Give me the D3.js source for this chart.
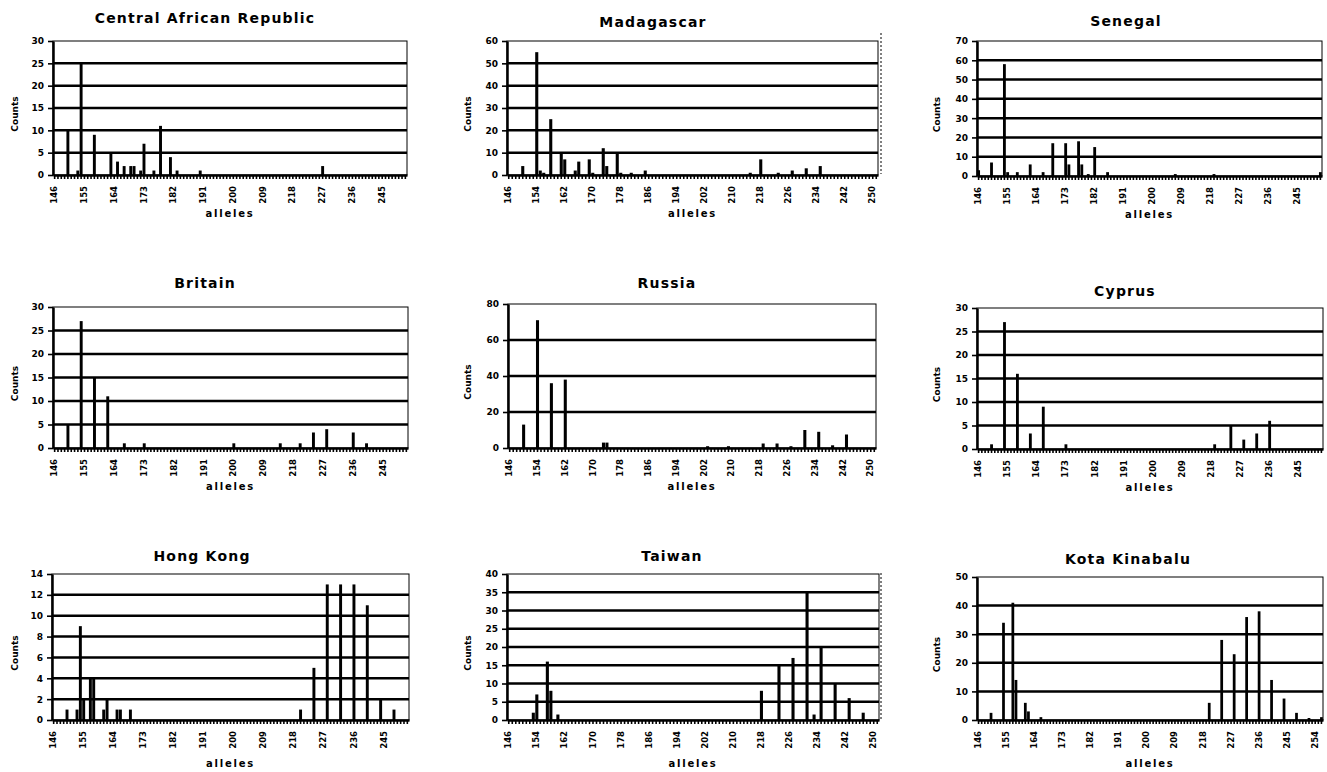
<!DOCTYPE html>
<html>
<head>
<meta charset="utf-8">
<script src="https://cdn.jsdelivr.net/npm/d3@7"></script>
<style>
body{margin:0;background:#fff;}
svg{display:block;font-family:"DejaVu Sans",sans-serif;font-weight:bold;}
</style>
</head>
<body>
<svg id="chart" width="1327" height="772"></svg>
<script>
// ---- data ----
const titles = ["Central African Republic","Madagascar","Senegal","Britain","Russia","Cyprus","Hong Kong","Taiwan","Kota Kinabalu"];

// tick labels
const labels9 = [146,155,164,173,182,191,200,209,218,227,236,245];
const labels8 = [146,154,162,170,178,186,194,202,210,218,226,234,242,250];
const labelsKK = [146,155,164,173,182,191,200,209,218,227,236,245,254];

const ticksCAR = [0,5,10,15,20,25,30];
const ticksMAD = [0,10,20,30,40,50,60];
const ticksSEN = [0,10,20,30,40,50,60,70];
const ticksBRI = [0,5,10,15,20,25,30];
const ticksRUS = [0,20,40,60,80];
const ticksCYP = [0,5,10,15,20,25,30];
const ticksHK  = [0,2,4,6,8,10,12,14];
const ticksTAI = [0,5,10,15,20,25,30,35,40];
const ticksKK  = [0,10,20,30,40,50];

// first / last allele on each category axis
const catRangeA = [146,252];
const catRangeB = [146,251];
const catRangeKK = [146,256];

// allele sizes and counts
const carAlleles = [150,153,154,158,163,165,167,169,170,172,173,176,178,181,183,190,227];
const carCounts  = [10,1,25,9,5,3,2,2,2,1,7,1,11,4,1,1,2];

const madAlleles = [150,154,155,156,158,161,162,165,166,169,170,173,174,177,178,181,185,215,218,223,227,231,235];
const madCounts  = [4,55,2,1,25,10,7,2,6,7,1,12,4,10,1,1,2,1,7,1,2,3,4];

const senAlleles = [146,150,154,155,158,162,166,169,173,174,177,178,180,182,186,207,219,252];
const senCounts  = [3,7,58,2,2,6,2,17,17,6,18,6,1,15,2,1,1,2];

const briAlleles = [150,154,158,162,167,173,200,214,220,224,228,236,240];
const briCounts  = [5,27,15,11,1,1,1,1,1,3.3,4,3.3,1];

const rusAlleles = [150,154,158,162,173,174,203,209,219,223,227,231,235,239,243];
const rusCounts  = [13,71,36,38,3,3,1,1,2.5,2.5,1,10,9,1.5,7.5];

const cypAlleles = [150,154,158,162,166,173,219,224,228,232,236];
const cypCounts  = [1,27,16,3.3,9,1,1,5,2,3.3,6];

const hkAlleles = [150,153,154,155,157,158,161,162,165,166,169,220,224,228,232,236,240,244,248];
const hkCounts  = [1,1,9,2,4,4,1,2,1,1,1,1,5,13,13,13,11,2,1];

const taiAlleles = [153,154,157,158,160,218,223,227,231,233,235,239,243,247];
const taiCounts  = [2,7,16,8,1.5,8,15,17,35,1.5,20,10,6,2];

const kkAlleles = [150,154,157,158,161,162,166,220,224,228,232,236,240,244,248,252,256];
const kkCounts  = [2.5,34,41,14,6,3,1,6,28,23,36,38,14,7.5,2.5,0.7,1];

// ---- layout ----
const panels = [
  {title:titles[0], alleles:carAlleles, counts:carCounts, yTicks:ticksCAR, cats:catRangeA, xLabels:labels9,
   left:53, right:407, top:41, bottom:175, titleX:205, titleY:23, ylabX:18, xtitleGap:42},
  {title:titles[1], alleles:madAlleles, counts:madCounts, yTicks:ticksMAD, cats:catRangeB, xLabels:labels8,
   left:507, right:878, top:41, bottom:175, titleX:653, titleY:27, ylabX:471, xtitleGap:42},
  {title:titles[2], alleles:senAlleles, counts:senCounts, yTicks:ticksSEN, cats:catRangeA, xLabels:labels9,
   left:977, right:1322, top:41, bottom:176, titleX:1126, titleY:26, ylabX:940, xtitleGap:42},
  {title:titles[3], alleles:briAlleles, counts:briCounts, yTicks:ticksBRI, cats:catRangeA, xLabels:labels9,
   left:53, right:408, top:307, bottom:448, titleX:205, titleY:288, ylabX:18, xtitleGap:42},
  {title:titles[4], alleles:rusAlleles, counts:rusCounts, yTicks:ticksRUS, cats:catRangeB, xLabels:labels8,
   left:508, right:876, top:304, bottom:448, titleX:667, titleY:288, ylabX:471, xtitleGap:42},
  {title:titles[5], alleles:cypAlleles, counts:cypCounts, yTicks:ticksCYP, cats:catRangeA, xLabels:labels9,
   left:977, right:1323, top:308, bottom:449, titleX:1125, titleY:296, ylabX:940, xtitleGap:42},
  {title:titles[6], alleles:hkAlleles, counts:hkCounts, yTicks:ticksHK, cats:catRangeA, xLabels:labels9,
   left:52, right:409, top:574, bottom:720, titleX:202, titleY:561, ylabX:18, xtitleGap:47},
  {title:titles[7], alleles:taiAlleles, counts:taiCounts, yTicks:ticksTAI, cats:catRangeB, xLabels:labels8,
   left:507, right:879, top:574, bottom:720, titleX:672, titleY:561, ylabX:471, xtitleGap:47},
  {title:titles[8], alleles:kkAlleles, counts:kkCounts, yTicks:ticksKK, cats:catRangeKK, xLabels:labelsKK,
   left:977, right:1323, top:577, bottom:720, titleX:1128, titleY:564, ylabX:940, xtitleGap:47}
];

const svg = d3.select("#chart");
const FONT = "DejaVu Sans, sans-serif";

function drawPanel(p){
  const cats = d3.range(p.cats[0], p.cats[1] + 1);
  const yMax = p.yTicks[p.yTicks.length - 1];
  const x = d3.scaleBand().domain(cats).range([p.left, p.right]);
  const y = d3.scaleLinear().domain([0, yMax]).range([p.bottom, p.top]);
  const g = svg.append("g");

  // plot area border (thin)
  g.append("rect")
    .attr("x", p.left).attr("y", p.top)
    .attr("width", p.right - p.left).attr("height", p.bottom - p.top)
    .attr("fill", "none").attr("stroke", "#000").attr("stroke-width", 1);

  // gridlines (thick)
  g.selectAll(".grid").data(p.yTicks.slice(1, -1)).join("line")
    .attr("class", "grid")
    .attr("x1", p.left).attr("x2", p.right)
    .attr("y1", d => y(d)).attr("y2", d => y(d))
    .attr("stroke", "#000").attr("stroke-width", 2.5);

  // bars
  const bw = x.bandwidth() * 0.88;
  const rows = p.alleles.map((a, i) => ({a: a, c: p.counts[i]}));
  g.selectAll(".bar").data(rows).join("rect")
    .attr("class", "bar")
    .attr("x", d => x(d.a) + (x.bandwidth() - bw) / 2)
    .attr("width", bw)
    .attr("y", d => y(d.c))
    .attr("height", d => p.bottom - y(d.c))
    .attr("fill", "#000");

  // x axis, tick at each allele, label every few
  const shown = new Set(p.xLabels);
  const xa = g.append("g")
    .attr("transform", `translate(0,${p.bottom})`)
    .call(d3.axisBottom(x).tickValues(cats).tickSize(4).tickSizeOuter(0)
      .tickFormat(d => shown.has(d) ? d : ""));
  xa.select(".domain").attr("stroke-width", 2.5);
  xa.selectAll(".tick line").attr("stroke-width", 1.6);
  xa.selectAll("text")
    .attr("transform", "rotate(-90)")
    .attr("x", -11).attr("y", 0).attr("dy", "0.3em")
    .style("text-anchor", "end")
    .attr("font-size", 8.5).attr("font-weight", "bold")
    .attr("font-family", FONT);

  // y axis
  const ya = g.append("g")
    .attr("transform", `translate(${p.left},0)`)
    .call(d3.axisLeft(y).tickValues(p.yTicks).tickSize(5).tickSizeOuter(0).tickPadding(4));
  ya.select(".domain").attr("stroke-width", 2.5);
  ya.selectAll(".tick line").attr("stroke-width", 1.6);
  ya.selectAll("text")
    .attr("font-size", 9).attr("font-weight", "bold")
    .attr("font-family", FONT);

  // titles
  g.append("text")
    .attr("x", p.titleX).attr("y", p.titleY)
    .attr("text-anchor", "middle")
    .attr("font-size", 14).attr("letter-spacing", 1.2)
    .text(p.title);

  const midY = (p.top + p.bottom) / 2 + 6;
  g.append("text")
    .attr("transform", `translate(${p.ylabX},${midY}) rotate(-90)`)
    .attr("text-anchor", "middle")
    .attr("font-size", 9)
    .text("Counts");

  g.append("text")
    .attr("x", (p.left + p.right) / 2).attr("y", p.bottom + p.xtitleGap)
    .attr("text-anchor", "middle")
    .attr("font-size", 10).attr("letter-spacing", 1.8)
    .text("alleles");
}

panels.forEach(drawPanel);

// faint dotted chart-area edge seen left of the right column
[[33, 174], [573, 720]].forEach(r => {
  svg.append("line")
    .attr("x1", 881).attr("x2", 881).attr("y1", r[0]).attr("y2", r[1])
    .attr("stroke", "#000").attr("stroke-width", 1).attr("stroke-dasharray", "2,2");
});
</script>
</body>
</html>
